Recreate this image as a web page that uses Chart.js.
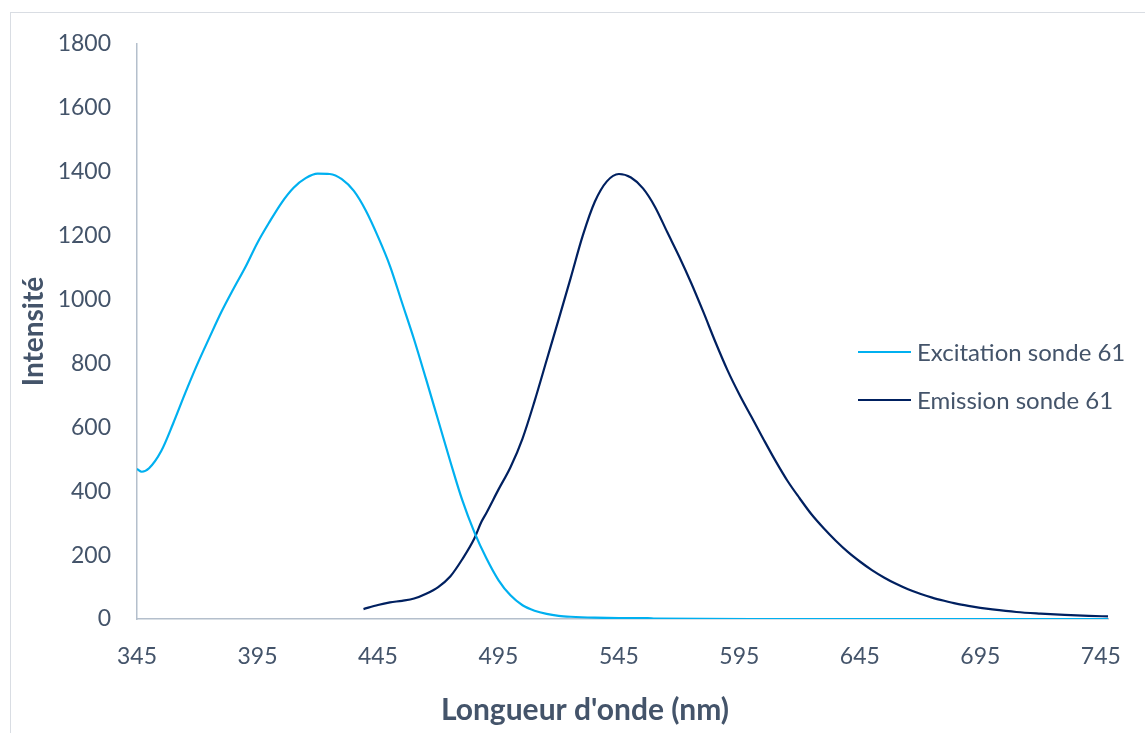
<!DOCTYPE html>
<html>
<head>
<meta charset="utf-8">
<script src="https://cdn.jsdelivr.net/npm/chart.js@4/dist/chart.umd.min.js"></script>
<style>
  html, body { margin: 0; padding: 0; background: #ffffff; overflow: hidden; }
  #frame { position: absolute; left: 10px; top: 12px; width: 1200px; height: 800px; border: 1px solid #d9dde3; box-sizing: border-box; }
  #c { position: absolute; left: 0; top: 0; }
</style>
</head>
<body>
<div id="frame"></div>
<canvas id="c" width="1145" height="733"></canvas>
<script>
// ---- data ----
const seriesNames = ['Excitation sonde 61', 'Emission sonde 61'];
const xTickValues = [345, 395, 445, 495, 545, 595, 645, 695, 745];
const yTickValues = [0, 200, 400, 600, 800, 1000, 1200, 1400, 1600, 1800];

const excitationNm = [345, 347, 350, 355, 360, 365, 370, 375, 380, 385, 390, 395, 400, 405, 410, 415, 420, 425, 430, 435, 440, 445, 450, 455, 460, 465, 470, 475, 480, 485, 490, 495, 500, 505, 510, 515, 520, 525, 535, 545, 557, 560, 600, 650, 700, 748];
const excitationValues = [470, 461, 472, 525, 612, 707, 797, 880, 961, 1033, 1102, 1178, 1243, 1303, 1350, 1380, 1394, 1393, 1377, 1340, 1278, 1197, 1105, 990, 875, 750, 622, 494, 372, 272, 190, 122, 74, 43, 26, 16, 10, 7, 4, 3, 3, 1, 0, 0, 0, 0];

const emissionNm = [439, 445, 450, 455, 460, 465, 470, 475, 480, 485, 488, 490, 495, 500, 505, 510, 515, 520, 525, 530, 535, 540, 545, 550, 555, 560, 565, 570, 575, 580, 585, 590, 595, 600, 605, 610, 615, 620, 625, 630, 635, 640, 645, 650, 655, 660, 665, 670, 675, 680, 685, 690, 695, 700, 710, 720, 730, 740, 748];
const emissionValues = [31, 44, 52, 57, 64, 79, 100, 133, 187, 252, 305, 332, 405, 475, 565, 682, 810, 938, 1068, 1200, 1306, 1370, 1393, 1382, 1348, 1290, 1212, 1135, 1052, 962, 868, 780, 703, 633, 563, 495, 432, 378, 327, 284, 245, 210, 180, 153, 130, 110, 93, 79, 67, 57, 48, 41, 35, 30, 22, 17, 13, 10, 8];

const xTitle = "Longueur d'onde (nm)";
const yTitle = 'Intensité';

// ---- styles ----
const textColor = '#44546a';
const axisColor = '#b4bfcc';
const colors = ['#00b0f0', '#002060'];
const fontFamily = 'Lato, "Open Sans", sans-serif';

const toPoints = (xs, ys) => xs.map((x, i) => ({ x: x, y: ys[i] }));

const legendAndTitlePlugin = {
  id: 'legendAndTitle',
  afterDraw(chart) {
    const ctx = chart.ctx;
    ctx.save();
    // legend (overlaid on the plot, as in the reference)
    const lx = 858, lw = 53, ly0 = 352, lstep = 48;
    chart.data.datasets.forEach((ds, i) => {
      const y = ly0 + i * lstep;
      ctx.strokeStyle = ds.borderColor;
      ctx.lineWidth = 2;
      ctx.beginPath();
      ctx.moveTo(lx, y);
      ctx.lineTo(lx + lw, y);
      ctx.stroke();
      ctx.fillStyle = textColor;
      ctx.font = '24px ' + fontFamily;
      ctx.textAlign = 'left';
      ctx.textBaseline = 'middle';
      ctx.fillText(ds.label, lx + lw + 6, y + 1);
    });
    // x axis title
    ctx.font = 'bold 30px ' + fontFamily;
    ctx.fillStyle = textColor;
    ctx.textAlign = 'center';
    ctx.textBaseline = 'alphabetic';
    ctx.fillText(xTitle, 585, 720);
    ctx.restore();
  }
};

new Chart(document.getElementById('c'), {
  type: 'line',
  data: {
    datasets: [
      { label: seriesNames[0], data: toPoints(excitationNm, excitationValues), borderColor: colors[0], backgroundColor: colors[0], borderWidth: 2.2, pointRadius: 0, cubicInterpolationMode: 'monotone', fill: false },
      { label: seriesNames[1], data: toPoints(emissionNm, emissionValues), borderColor: colors[1], backgroundColor: colors[1], borderWidth: 2.2, pointRadius: 0, cubicInterpolationMode: 'monotone', fill: false }
    ]
  },
  options: {
    responsive: false,
    animation: false,
    events: [],
    layout: { padding: { left: 0, top: 44, right: 25, bottom: 0 } },
    plugins: { legend: { display: false }, tooltip: { enabled: false }, title: { display: false } },
    scales: {
      x: {
        type: 'linear', min: 345, max: 748,
        grid: { display: false, drawTicks: false },
        border: { display: true, color: axisColor, width: 1.5 },
        afterBuildTicks: (s) => { s.ticks = xTickValues.map(v => ({ value: v })); },
        afterFit: (s) => { s.height = 733 - 619; },
        ticks: { color: textColor, font: { family: fontFamily, size: 23 }, padding: 24, maxRotation: 0, autoSkip: false, callback: (v) => String(v) }
      },
      y: {
        min: 0, max: 1800,
        grid: { display: false, drawTicks: false },
        border: { display: true, color: axisColor, width: 1.5 },
        afterBuildTicks: (s) => { s.ticks = yTickValues.map(v => ({ value: v })); },
        afterFit: (s) => { s.width = 137; },
        ticks: { color: textColor, font: { family: fontFamily, size: 23 }, padding: 26, callback: (v) => String(v) },
        title: { display: true, text: yTitle, color: textColor, font: { family: fontFamily, size: 28, weight: 'bold' }, padding: { top: 17, bottom: 0 } }
      }
    }
  },
  plugins: [legendAndTitlePlugin]
});
</script>
</body>
</html>
